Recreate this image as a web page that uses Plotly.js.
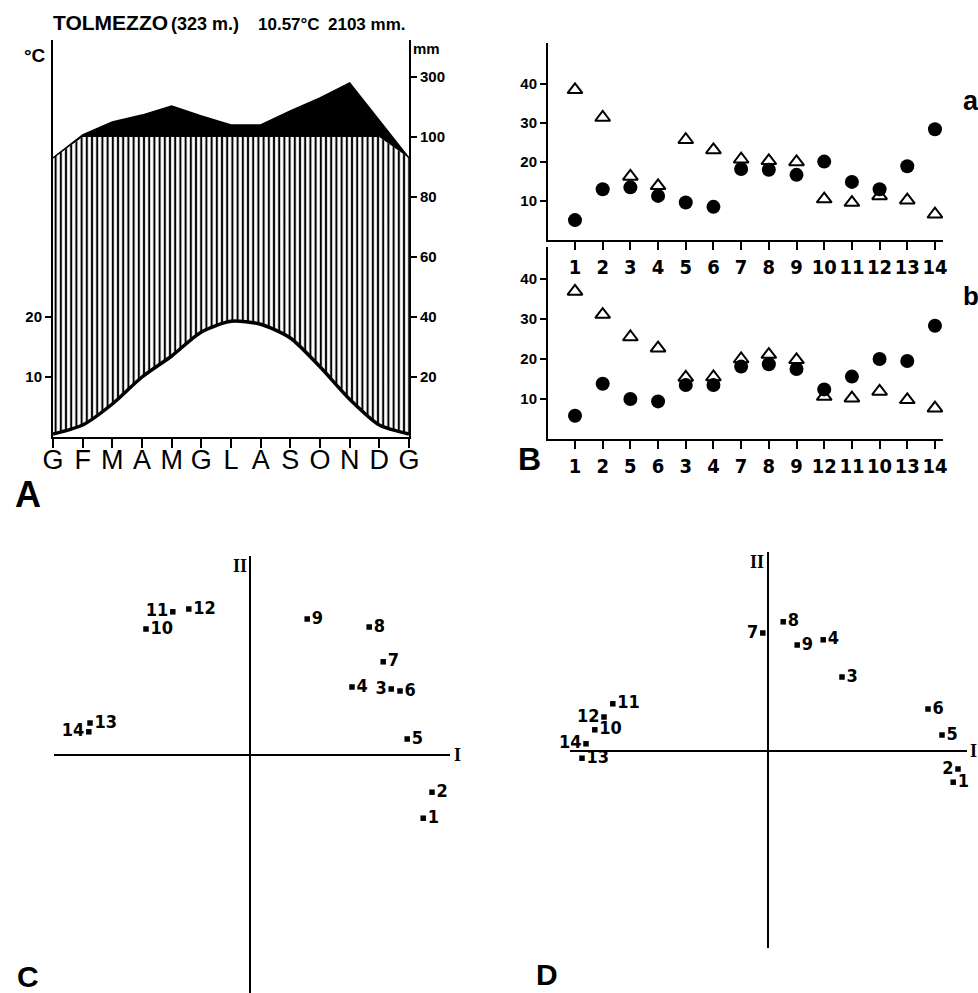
<!DOCTYPE html>
<html>
<head>
<meta charset="utf-8">
<script src="https://cdn.plot.ly/plotly-3.0.1.min.js"></script>
<style>
  html, body { margin: 0; padding: 0; background: #ffffff; }
  #chart { width: 978px; height: 993px; }
</style>
</head>
<body>
<div id="chart"></div>
<script>
// ---------- DATA ----------
// Panel A: climate diagram, Tolmezzo (months Jan..Dec + Jan repeated)
const months = ['G','F','M','A','M','G','L','A','S','O','N','D','G'];
const tempC = [0.5, 2, 5.5, 10, 13.5, 17.5, 19.3, 18.8, 16.5, 11.7, 6.3, 2, 0.5];
const precMM = [93, 107, 150, 173, 203, 170, 140, 140, 187, 230, 280, 153, 93];
const tempTicks = [10, 20];
const mmTicks = [20, 40, 60, 80, 100, 300];

// Panel B (a): releve order 1..14
const catA = ['1','2','3','4','5','6','7','8','9','10','11','12','13','14'];
const triA = [38.5, 31.4, 16.3, 13.9, 25.7, 23.1, 20.7, 20.3, 20.0, 10.5, 9.6, 11.3, 10.2, 6.6];
const dotA = [5.1, 13.0, 13.5, 11.3, 9.6, 8.5, 18.2, 18.0, 16.7, 20.1, 14.9, 13.0, 18.9, 28.4];
// Panel B (b): ordination order
const catB = ['1','2','5','6','3','4','7','8','9','12','11','10','13','14'];
const triB = [36.9, 31.1, 25.5, 22.7, 15.4, 15.5, 20.0, 21.1, 19.8, 10.6, 10.2, 11.9, 9.8, 7.7];
const dotB = [5.8, 13.8, 10.0, 9.4, 13.5, 13.5, 18.1, 18.7, 17.5, 12.4, 15.6, 20.0, 19.5, 28.3];
const bTicks = [10, 20, 30, 40];

// Panel C: ordination axes I / II
const ordLabels = ['1','2','3','4','5','6','7','8','9','10','11','12','13','14'];
const cI  = [4.33, 4.55, 3.53, 2.55, 3.93, 3.75, 3.33, 2.98, 1.43, -2.60, -1.93, -1.53, -4.00, -4.03];
const cII = [-1.58, -0.93, 1.65, 1.70, 0.40, 1.60, 2.33, 3.20, 3.40, 3.15, 3.58, 3.65, 0.80, 0.58];
// Panel D
const dI  = [4.63, 4.75, 1.85, 1.38, 4.35, 4.00, -0.13, 0.38, 0.73, -4.33, -3.88, -4.10, -4.65, -4.55];
const dII = [-0.78, -0.45, 1.85, 2.78, 0.40, 1.05, 2.95, 3.23, 2.65, 0.53, 1.18, 0.85, -0.18, 0.18];

// ---------- STYLE / LAYOUT HELPERS ----------
const W = 978, H = 993;
const px = v => v / W;
const py = v => 1 - v / H;
const NARROW = 'Liberation Sans Narrow, DejaVu Sans Condensed, Arial Narrow, Roboto, sans-serif';
const SANS = 'Liberation Sans, Arial, Helvetica, sans-serif';
const SERIF = 'Liberation Serif, DejaVu Serif, serif';

// Walter–Lieth precipitation scale: 20 mm = 10 °C up to 100 mm, then 200 mm = 10 °C
const scaleP = p => (p <= 100 ? p / 2 : 50 + (p - 100) / 20);
const precScaled = precMM.map(scaleP);
const precCapped = precScaled.map(v => Math.min(v, 50));
const xMonths = months.map((m, i) => i);

const cPos = ['middle right','middle right','middle left','middle right','middle right','middle right','middle right',
              'middle right','middle right','middle right','middle left','middle right','middle right','middle left'];
const dPos = ['middle right','middle left','middle right','middle right','middle right','middle right','middle left',
              'middle right','middle right','middle right','middle right','middle left','middle right','middle left'];

const labelFont = {family: NARROW, size: 18, color: '#000', weight: 'bold'};
const catFont = {family: NARROW, size: 20, color: '#000', weight: 'bold'};

const traces = [
  // Panel A
  {x: xMonths, y: tempC, xaxis: 'x', yaxis: 'y', mode: 'lines',
   line: {color: '#000', width: 3.5, shape: 'spline', smoothing: 0.7}, hoverinfo: 'skip'},
  {x: xMonths, y: precCapped, xaxis: 'x', yaxis: 'y', mode: 'lines',
   line: {color: 'rgba(0,0,0,0)', width: 0}, fill: 'tonexty', fillcolor: 'rgba(0,0,0,0)',
   fillpattern: {shape: '|', size: 5.2, solidity: 0.4, fgcolor: '#000', bgcolor: '#fff'}, hoverinfo: 'skip'},
  {x: xMonths, y: precScaled, xaxis: 'x', yaxis: 'y', mode: 'lines',
   line: {color: 'rgba(0,0,0,0)', width: 0}, fill: 'tonexty', fillcolor: '#000', hoverinfo: 'skip'},
  // precipitation outline, on the mm axis (same transformed scale)
  {x: xMonths, y: precScaled, xaxis: 'x', yaxis: 'y2', mode: 'lines',
   line: {color: '#000', width: 1.5}, hoverinfo: 'skip'},

  // Panel B a
  {x: catA, y: triA, xaxis: 'x3', yaxis: 'y3', mode: 'markers',
   marker: {symbol: 'triangle-up-open', size: 13, color: '#000', line: {width: 2, color: '#000'}}},
  {x: catA, y: dotA, xaxis: 'x3', yaxis: 'y3', mode: 'markers',
   marker: {symbol: 'circle', size: 14, color: '#000'}},
  // Panel B b
  {x: catB, y: triB, xaxis: 'x4', yaxis: 'y4', mode: 'markers',
   marker: {symbol: 'triangle-up-open', size: 13, color: '#000', line: {width: 2, color: '#000'}}},
  {x: catB, y: dotB, xaxis: 'x4', yaxis: 'y4', mode: 'markers',
   marker: {symbol: 'circle', size: 14, color: '#000'}},

  // Panel C
  {x: cI, y: cII, text: ordLabels, xaxis: 'x5', yaxis: 'y5', mode: 'markers+text',
   textposition: cPos, textfont: labelFont, cliponaxis: false,
   marker: {symbol: 'square', size: 5.5, color: '#000'}},
  // Panel D
  {x: dI, y: dII, text: ordLabels, xaxis: 'x6', yaxis: 'y6', mode: 'markers+text',
   textposition: dPos, textfont: labelFont, cliponaxis: false,
   marker: {symbol: 'square', size: 5.5, color: '#000'}}
];

const axBase = {showgrid: false, zeroline: false, showline: true, linecolor: '#000', linewidth: 2,
                ticks: 'outside', tickcolor: '#000', tickwidth: 2, fixedrange: true};
const hidden = {showgrid: false, showline: false, showticklabels: false, ticks: '',
                zeroline: true, zerolinecolor: '#000', zerolinewidth: 2, fixedrange: true};

const yTopA = (437 - 40) / 6;

const layout = {
  width: W, height: H,
  margin: {l: 0, r: 0, t: 0, b: 0},
  paper_bgcolor: '#ffffff', plot_bgcolor: 'rgba(0,0,0,0)',
  showlegend: false,
  font: {family: SANS, color: '#000'},
  // Panel A
  xaxis: Object.assign({}, axBase, {domain: [px(53), px(409)], range: [0, 12], anchor: 'y',
         tickvals: xMonths, ticktext: months, ticklen: 9, tickangle: 0, ticklabelstandoff: -11,
         tickfont: {family: SANS, size: 27, color: '#000'}}),
  yaxis: Object.assign({}, axBase, {domain: [py(437), py(40)], range: [0, yTopA], anchor: 'x',
         tickvals: tempTicks, ticklen: 6,
         tickfont: {family: SANS, size: 15, color: '#000', weight: 'bold'}}),
  yaxis2: Object.assign({}, axBase, {overlaying: 'y', side: 'right', anchor: 'x', range: [0, yTopA],
         tickvals: mmTicks.map(scaleP), ticktext: mmTicks.map(String), ticklen: 6,
         tickfont: {family: SANS, size: 15, color: '#000', weight: 'bold'}}),
  // Panel B a
  xaxis3: Object.assign({}, axBase, {domain: [px(548), px(943)], type: 'category', categoryorder: 'array',
          categoryarray: catA, range: [-0.975, 13.29], anchor: 'y3', ticklen: 8, tickangle: 0,
          tickfont: catFont}),
  yaxis3: Object.assign({}, axBase, {domain: [py(240), py(43)], range: [0, 50.5], anchor: 'x3',
          tickvals: bTicks, ticklen: 6,
          tickfont: {family: SANS, size: 15, color: '#000', weight: 'bold'}}),
  // Panel B b
  xaxis4: Object.assign({}, axBase, {domain: [px(548), px(943)], type: 'category', categoryorder: 'array',
          categoryarray: catB, range: [-0.975, 13.29], anchor: 'y4', ticklen: 8, tickangle: 0,
          tickfont: catFont}),
  yaxis4: Object.assign({}, axBase, {domain: [py(439), py(247)], range: [0, 48], anchor: 'x4',
          tickvals: bTicks, ticklen: 6,
          tickfont: {family: SANS, size: 15, color: '#000', weight: 'bold'}}),
  // Panel C
  xaxis5: Object.assign({}, hidden, {domain: [px(54), px(450)], range: [-4.9, 5.0], anchor: 'y5'}),
  yaxis5: Object.assign({}, hidden, {domain: [0, py(556)], range: [-5.95, 4.975], anchor: 'x5'}),
  // Panel D
  xaxis6: Object.assign({}, hidden, {domain: [px(570), px(967)], range: [-4.95, 4.975], anchor: 'y6'}),
  yaxis6: Object.assign({}, hidden, {domain: [py(948), py(552)], range: [-4.925, 4.975], anchor: 'x6'}),
  annotations: [
    {text: 'TOLMEZZO', x: px(51), y: py(23), xanchor: 'left', yanchor: 'middle',
     font: {family: SANS, size: 21, weight: 'bold'}},
    {text: '(323 m.)', x: px(169), y: py(24), xanchor: 'left', yanchor: 'middle',
     font: {family: SANS, size: 18, weight: 'bold'}},
    {text: '10.57°C', x: px(256), y: py(24), xanchor: 'left', yanchor: 'middle',
     font: {family: SANS, size: 17, weight: 'bold'}},
    {text: '2103 mm.', x: px(326), y: py(24), xanchor: 'left', yanchor: 'middle',
     font: {family: SANS, size: 17, weight: 'bold'}},
    {text: '°C', x: px(48), y: py(55), xanchor: 'right', yanchor: 'middle',
     font: {family: SANS, size: 19, weight: 'bold'}},
    {text: 'mm', x: px(411), y: py(49), xanchor: 'left', yanchor: 'middle',
     font: {family: SANS, size: 15, weight: 'bold'}},
    {text: 'A', x: px(13), y: py(495), xanchor: 'left', yanchor: 'middle',
     font: {family: SANS, size: 36, weight: 'bold'}},
    {text: 'B', x: px(516), y: py(459), xanchor: 'left', yanchor: 'middle',
     font: {family: SANS, size: 32, weight: 'bold'}},
    {text: 'a', x: px(961), y: py(101), xanchor: 'left', yanchor: 'middle',
     font: {family: SANS, size: 27, weight: 'bold'}},
    {text: 'b', x: px(961), y: py(296), xanchor: 'left', yanchor: 'middle',
     font: {family: SANS, size: 26, weight: 'bold'}},
    {text: 'C', x: px(15), y: py(976), xanchor: 'left', yanchor: 'middle',
     font: {family: SANS, size: 30, weight: 'bold'}},
    {text: 'D', x: px(534), y: py(974), xanchor: 'left', yanchor: 'middle',
     font: {family: SANS, size: 30, weight: 'bold'}},
    {text: 'II', x: px(240), y: py(566), xanchor: 'center', yanchor: 'middle',
     font: {family: SERIF, size: 18, weight: 'bold'}},
    {text: 'I', x: px(457), y: py(755), xanchor: 'center', yanchor: 'middle',
     font: {family: SERIF, size: 18, weight: 'bold'}},
    {text: 'II', x: px(757), y: py(562), xanchor: 'center', yanchor: 'middle',
     font: {family: SERIF, size: 18, weight: 'bold'}},
    {text: 'I', x: px(973), y: py(751), xanchor: 'center', yanchor: 'middle',
     font: {family: SERIF, size: 18, weight: 'bold'}}
  ].map(a => Object.assign({xref: 'paper', yref: 'paper', showarrow: false}, a))
};

Plotly.newPlot('chart', traces, layout, {staticPlot: true, displayModeBar: false});
</script>
</body>
</html>
